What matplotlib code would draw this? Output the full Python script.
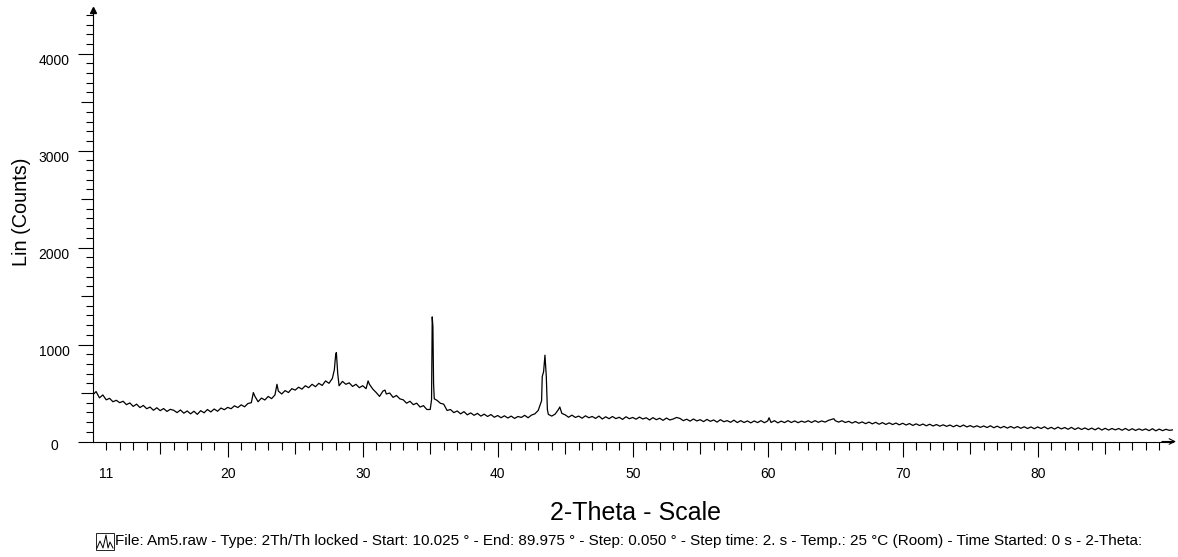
import numpy as np
import matplotlib
matplotlib.use('Agg')
import matplotlib.pyplot as plt
from matplotlib.lines import Line2D
from matplotlib.patches import Rectangle

plt.rcParams['font.family'] = ['Liberation Sans', 'DejaVu Sans']

# scan every 0.25 deg, 10 -> 90
scan_start, scan_step = 10.0, 0.25
counts = [
    480, 515, 450, 480,  # 10
    430, 445, 410, 425,
    400, 415, 380, 398,
    362, 385, 350, 372,
    338, 355, 322, 348,
    318, 340, 310, 332,  # 15
    322, 298, 325, 292,
    315, 285, 312, 280,
    318, 296, 330, 305,
    335, 312, 345, 328,
    352, 338, 368, 350,  # 20
    378, 358, 392, 400,
    470, 410, 448, 428,
    465, 442, 480, 520,
    490, 525, 505, 545,
    530, 560, 540, 575,  # 25
    555, 590, 565, 600,
    578, 625, 600, 650,
    900, 575, 620, 590,
    605, 568, 590, 555,
    575, 545, 590, 540,  # 30
    505, 465, 520, 490,
    500, 455, 475, 440,
    430, 395, 415, 380,
    395, 355, 370, 330,
    330, 600, 425, 395,  # 35
    385, 320, 330, 298,
    315, 285, 308, 275,
    295, 270, 290, 262,
    282, 258, 278, 250,
    268, 245, 265, 242,  # 40
    262, 238, 258, 248,
    270, 245, 272, 285,
    320, 420, 890, 280,
    262, 282, 330, 290,
    275, 250, 272, 248,  # 45
    262, 240, 265, 245,
    258, 238, 262, 232,
    255, 235, 258, 236,
    250, 228, 255, 235,
    248, 230, 252, 232,  # 50
    245, 222, 246, 225,
    240, 218, 242, 222,
    232, 248, 238, 215,
    230, 210, 232, 212,
    225, 205, 228, 208,  # 55
    222, 200, 225, 204,
    215, 198, 220, 195,
    215, 196, 212, 192,
    212, 195, 215, 194,
    212, 196, 215, 192,  # 60
    210, 195, 215, 196,
    212, 194, 210, 198,
    214, 196, 215, 198,
    212, 200, 218, 228,
    215, 200, 214, 196,  # 65
    208, 190, 206, 188,
    202, 184, 200, 182,
    198, 178, 195, 176,
    192, 175, 190, 172,
    188, 170, 185, 166,  # 70
    182, 165, 180, 162,
    178, 160, 175, 158,
    172, 156, 170, 152,
    168, 152, 170, 150,
    164, 148, 162, 146,  # 75
    160, 144, 162, 142,
    158, 140, 156, 138,
    155, 138, 154, 136,
    152, 134, 150, 132,
    150, 134, 152, 130,  # 80
    146, 128, 148, 130,
    144, 126, 146, 124,
    142, 124, 140, 122,
    138, 120, 140, 118,
    136, 118, 134, 120,  # 85
    134, 116, 135, 114,
    132, 114, 130, 116,
    130, 112, 132, 110,
    128, 112, 126, 115,
    120]                 # 90
two_theta = scan_start + scan_step * np.arange(len(counts))

# sharp reflections sitting between the grid points
peak_theta = [21.9, 23.65, 27.9, 28.05, 28.15, 30.4, 31.65,
              35.1, 35.15, 35.2, 35.3, 43.3, 43.4, 43.6, 43.68,
              44.6, 60.1, 64.9]
peak_counts = [505, 590, 740, 917, 700, 625, 530,
               430, 1285, 1185, 440, 670, 720, 670, 330,
               356, 245, 235]

x = np.concatenate([two_theta, peak_theta])
y = np.concatenate([counts, peak_counts])
order = np.argsort(x)

W, H = 1178, 557
fig = plt.figure(figsize=(W / 100, H / 100), dpi=100)
ax = fig.add_axes([92.7 / W, 1 - 441.5 / H, 1080 / W, 431.5 / H])
ax.plot(x[order], y[order], color='black', lw=0.9)

ax.set_xlim(10, 90)
ax.set_ylim(0, 4450)
for s in ['top', 'right']:
    ax.spines[s].set_visible(False)
for s in ['left', 'bottom']:
    ax.spines[s].set_linewidth(0.8)

# x ticks: 1 minor, 5 medium, 10 long
x_major = [11] + list(range(15, 90, 5))
x_labels = [str(v) if (v == 11 or v % 10 == 0) else '' for v in x_major]
ax.set_xticks(x_major, x_labels)
ax.set_xticks(list(range(11, 90)), minor=True)
ax.tick_params(axis='x', which='major', direction='out', length=10.5, width=0.8, pad=8, labelsize=10)
ax.tick_params(axis='x', which='minor', direction='out', length=5.4, width=0.8)
for t, v in zip(ax.xaxis.get_major_ticks(), x_major):
    t.tick1line.set_markersize(5.4 if v == 11 else (10.5 if v % 10 == 0 else 8.3))

# y ticks: 100 minor, 500 medium, 1000 long
y_major = list(range(0, 4001, 500))
y_labels = [str(v) if (v % 1000 == 0 and v > 0) else '' for v in y_major]
ax.set_yticks(y_major, y_labels)
ax.set_yticks(list(range(0, 4401, 100)), minor=True)
ax.tick_params(axis='y', which='major', direction='out', length=10.5, width=0.8, pad=6, labelsize=10)
ax.tick_params(axis='y', which='minor', direction='out', length=5.4, width=0.8)
for t, v in zip(ax.yaxis.get_major_ticks(), y_major):
    t.tick1line.set_markersize(10.5 if v % 1000 == 0 else 8.3)
for lab in ax.get_yticklabels():
    lab.set_va('top')

# axis arrows
ax.plot([0], [1], marker='^', color='black', markersize=5, transform=ax.transAxes, clip_on=False)
ax.annotate('', xy=(1.003, 0), xytext=(0.99, 0), xycoords='axes fraction',
            arrowprops=dict(arrowstyle='->', lw=0.8, color='black', shrinkA=0, shrinkB=0))

fig.text(58 / W, 1 - 445.5 / H, '0', ha='right', va='center', fontsize=10)
fig.text(21.5 / W, 1 - 212 / H, 'Lin (Counts)', rotation=90, ha='center', va='center', fontsize=14.3)
fig.text(635 / W, 1 - 513 / H, '2-Theta - Scale', ha='center', va='center', fontsize=18)

# little scan icon + file info line
fig.add_artist(Rectangle((96 / W, 1 - 550 / H), 18 / W, 17 / H, transform=fig.transFigure,
                         fill=False, lw=0.6, edgecolor='black'))
zx = np.array([97, 100, 103, 106, 108, 110, 113])
zy = np.array([548, 541, 548, 535, 548, 542, 548])
fig.add_artist(Line2D(zx / W, 1 - zy / H, transform=fig.transFigure, lw=0.7, color='black'))
info = ('File: Am5.raw - Type: 2Th/Th locked - Start: 10.025 \u00b0 - End: 89.975 \u00b0 - '
        'Step: 0.050 \u00b0 - Step time: 2. s - Temp.: 25 \u00b0C (Room) - Time Started: 0 s - 2-Theta:')
fig.text(115 / W, 1 - 541.5 / H, info, ha='left', va='center', fontsize=11)

fig.savefig('out.png', dpi=100)
